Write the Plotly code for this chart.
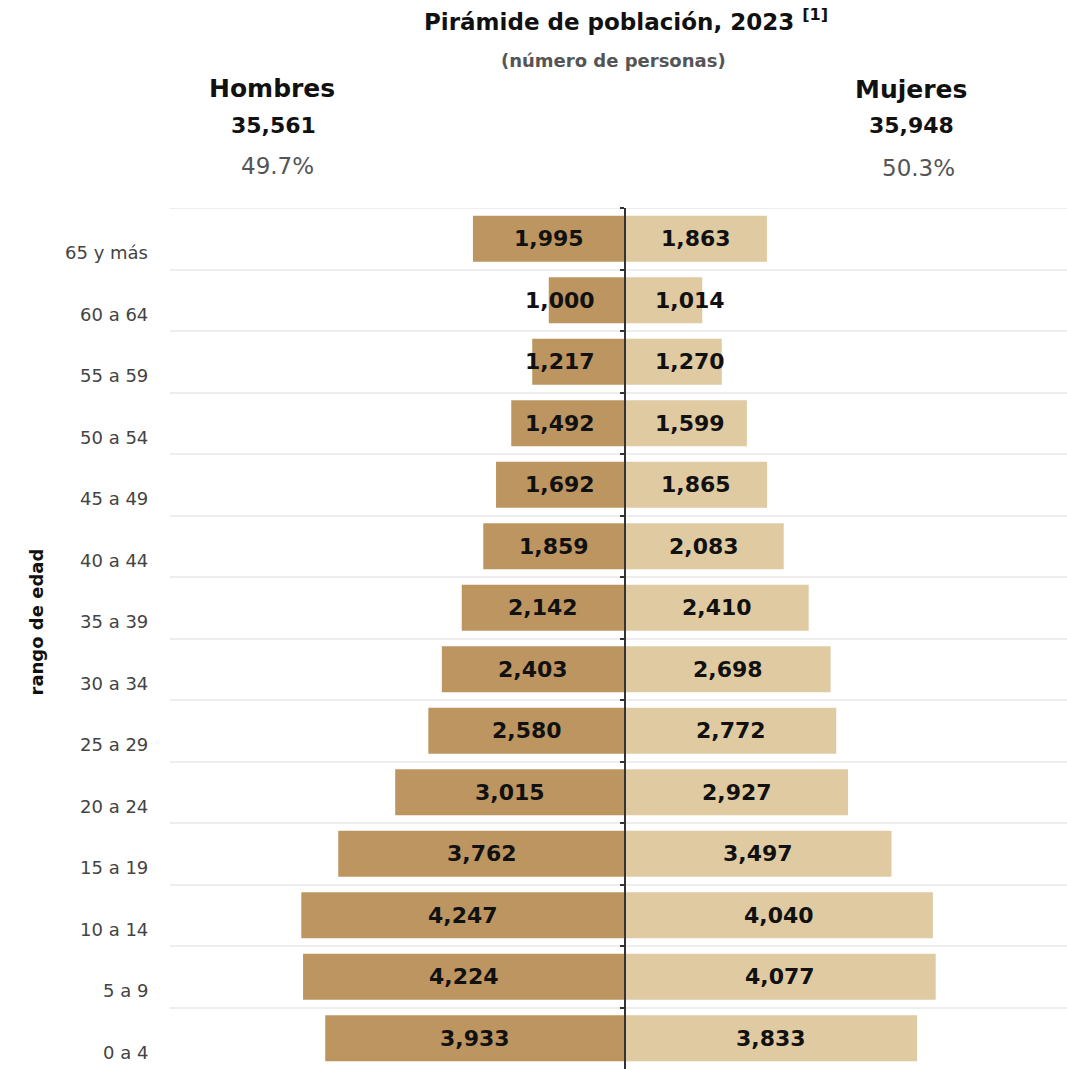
import plotly.graph_objects as go

# Age groups, top to bottom
grupos = ["65 y más", "60 a 64", "55 a 59", "50 a 54", "45 a 49", "40 a 44",
          "35 a 39", "30 a 34", "25 a 29", "20 a 24", "15 a 19", "10 a 14",
          "5 a 9", "0 a 4"]
hombres = [1995, 1000, 1217, 1492, 1692, 1859, 2142, 2403, 2580, 3015,
           3762, 4247, 4224, 3933]
mujeres = [1863, 1014, 1270, 1599, 1865, 2083, 2410, 2698, 2772, 2927,
           3497, 4040, 4077, 3833]
total_hombres = "35,561"
total_mujeres = "35,948"
pct_hombres = "49.7%"
pct_mujeres = "50.3%"

COLOR_H = "#BC9560"
COLOR_M = "#DFCAA2"
GRID = "#EDEDED"
FONT = "DejaVu Sans"
MIN_LABEL = 850  # keep value labels clear of the centre axis

fig = go.Figure()
fig.add_trace(go.Bar(
    y=grupos, x=[-v for v in hombres], orientation="h",
    marker=dict(color=COLOR_H, line=dict(width=0)), width=0.75,
    hoverinfo="skip", showlegend=False))
fig.add_trace(go.Bar(
    y=grupos, x=mujeres, orientation="h",
    marker=dict(color=COLOR_M, line=dict(width=0)), width=0.75,
    hoverinfo="skip", showlegend=False))
fig.update_layout(barmode="overlay")

annotations = []
for g, h, m in zip(grupos, hombres, mujeres):
    annotations.append(dict(
        x=-max(h / 2, MIN_LABEL), y=g, text=f"<b>{h:,}</b>", showarrow=False,
        font=dict(family=FONT, size=22, color="#111"), xanchor="center"))
    annotations.append(dict(
        x=max(m / 2, MIN_LABEL), y=g, text=f"<b>{m:,}</b>", showarrow=False,
        font=dict(family=FONT, size=22, color="#111"), xanchor="center"))
    annotations.append(dict(
        x=-0.022, xref="paper", y=g, yshift=-14, text=g, showarrow=False,
        xanchor="right", font=dict(family=FONT, size=18, color="#444")))


def px_note(x, y, text, size, color, bold=True, xanchor="center"):
    # positions given in figure pixels
    return dict(x=(x - 170) / 897, y=1 + (208 - y) / 861, xref="paper",
                yref="paper", text=f"<b>{text}</b>" if bold else text,
                showarrow=False, xanchor=xanchor, yanchor="middle",
                font=dict(family=FONT, size=size, color=color))


annotations += [
    px_note(626, 20, "Pirámide de población, 2023 <sup>[1]</sup>", 23, "#111"),
    px_note(613, 60, "(número de personas)", 18, "#555"),
    px_note(272, 88, "Hombres", 25, "#111"),
    px_note(273, 126, total_hombres, 22, "#111"),
    px_note(277, 166, pct_hombres, 23, "#555", bold=False),
    px_note(911, 89, "Mujeres", 25, "#111"),
    px_note(911, 126, total_mujeres, 22, "#111"),
    px_note(918, 168, pct_mujeres, 23, "#555", bold=False),
]
annotations.append(dict(
    x=(23 - 170) / 897, y=1 - (622 - 208) / 861, xref="paper", yref="paper",
    text="<b>rango de edad</b>", textangle=-90, showarrow=False,
    font=dict(family=FONT, size=18, color="#111")))

fig.update_layout(
    width=1067, height=1069,
    margin=dict(l=170, r=0, t=208, b=0),
    paper_bgcolor="white", plot_bgcolor="white",
    annotations=annotations,
    shapes=[dict(type="line", xref="paper", x0=0, x1=1, yref="y",
                 y0=-0.5, y1=-0.5, line=dict(color=GRID, width=2),
                 layer="below")],
    xaxis=dict(range=[-5970, 5800], showgrid=False, zeroline=False,
               showticklabels=False, ticks="", fixedrange=True),
    yaxis=dict(categoryorder="array", categoryarray=grupos,
               range=[13.5, -0.5], tickson="boundaries", showgrid=True,
               gridcolor=GRID, gridwidth=2, showticklabels=False,
               anchor="free", position=(625 - 170) / 897,
               showline=True, linecolor="#333", linewidth=2,
               ticks="outside", ticklen=4, tickcolor="#333", tickwidth=2,
               fixedrange=True),
)

fig.write_html("out.html")
